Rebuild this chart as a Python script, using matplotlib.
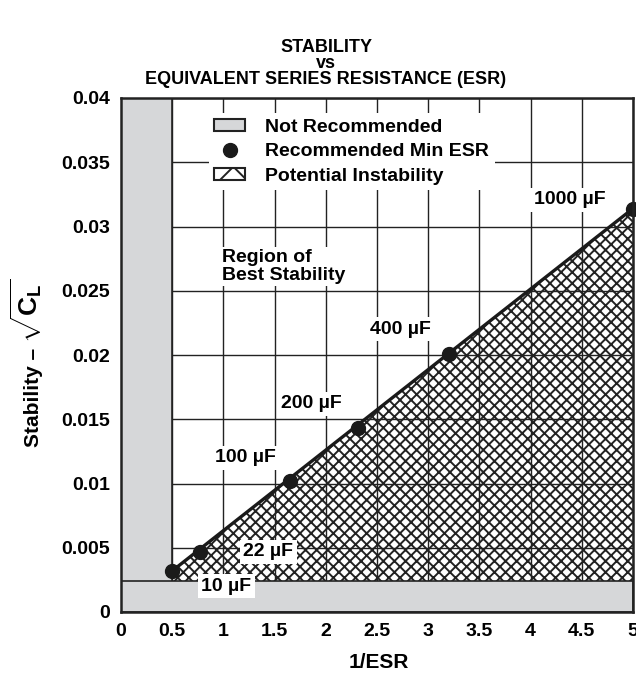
import matplotlib
matplotlib.use("Agg")
import matplotlib.pyplot as plt
from matplotlib.patches import Patch, Rectangle, Polygon
from matplotlib.lines import Line2D

plt.rcParams['font.family'] = ['Liberation Sans', 'DejaVu Sans']
plt.rcParams['font.weight'] = 'bold'
plt.rcParams['mathtext.fontset'] = 'custom'
plt.rcParams['mathtext.rm'] = 'Liberation Sans:bold'
plt.rcParams['mathtext.bf'] = 'Liberation Sans:bold'
plt.rcParams['mathtext.it'] = 'Liberation Sans:bold'
plt.rcParams['hatch.linewidth'] = 1.4

# Data
inv_esr = [0.5, 0.77, 1.65, 2.31, 3.2, 5.0]
stability = [0.0032, 0.0047, 0.0102, 0.0143, 0.0201, 0.0314]
cap_labels = ['10 µF', '22 µF', '100 µF', '200 µF', '400 µF', '1000 µF']
label_x = [1.03, 1.44, 1.22, 1.86, 2.73, 4.38]
label_y = [0.0020, 0.00467, 0.0120, 0.0162, 0.0220, 0.0321]
min_esr_x = 0.5
band_top = 0.0024
x_ticks = [0, 0.5, 1, 1.5, 2, 2.5, 3, 3.5, 4, 4.5, 5]
x_tick_labels = ['0', '0.5', '1', '1.5', '2', '2.5', '3', '3.5', '4', '4.5', '5']
y_ticks = [0, 0.005, 0.01, 0.015, 0.02, 0.025, 0.03, 0.035, 0.04]
y_tick_labels = ['0', '0.005', '0.01', '0.015', '0.02', '0.025', '0.03', '0.035', '0.04']

GRAY = '#d6d7d9'
FS = 14

fig = plt.figure(figsize=(6.36, 6.73), dpi=100)
ax = fig.add_axes([121/636, 61/673, 512/636, 514/673])
ax.set_xlim(0, 5)
ax.set_ylim(0, 0.04)
ax.set_xticks(x_ticks)
ax.set_xticklabels(x_tick_labels)
ax.set_yticks(y_ticks)
ax.set_yticklabels(y_tick_labels)
ax.tick_params(length=0, labelsize=14, pad=8)
for lbl in ax.get_xticklabels() + ax.get_yticklabels():
    lbl.set_fontweight('bold')
ax.grid(True, color='#222222', linewidth=1.0, zorder=0)
ax.set_axisbelow(True)
for s in ax.spines.values():
    s.set_linewidth(1.8)
    s.set_color('#222222')
    s.set_zorder(10)

# Hatched potential instability region
x0, x1 = inv_esr[0], inv_esr[-1]
poly = Polygon([(x0, band_top), (x0, stability[0]), (x1, stability[-1]), (x1, band_top)],
               closed=True, facecolor='none', edgecolor='#222222', hatch='xxx',
               linewidth=0, zorder=2)
ax.add_patch(poly)

# Not recommended gray regions
ax.add_patch(Rectangle((0, 0), min_esr_x, 0.04, facecolor=GRAY, edgecolor='#222222',
                       linewidth=1.2, zorder=3))
ax.add_patch(Rectangle((0, 0), 5, band_top, facecolor=GRAY, edgecolor='#222222',
                       linewidth=1.2, zorder=3))

# Line and points
ax.plot([inv_esr[0], inv_esr[-1]], [stability[0], stability[-1]], color='#1a1a1a',
        linewidth=2.4, zorder=5)
ax.plot(inv_esr, stability, 'o', color='#1a1a1a', markersize=10, zorder=6, clip_on=False)

for t, lx, ly in zip(cap_labels, label_x, label_y):
    ax.text(lx, ly, t, ha='center', va='center', fontsize=FS, fontweight='bold',
            bbox=dict(facecolor='white', edgecolor='none', pad=2.5), zorder=7)

ax.text(0.99, 0.0269, 'Region of\nBest Stability', ha='left', va='center', fontsize=FS,
        fontweight='bold', linespacing=1.05,
        bbox=dict(facecolor='white', edgecolor='none', pad=1.5), zorder=7)

handles = [
    Patch(facecolor=GRAY, edgecolor='#222222', linewidth=1.5),
    Line2D([], [], marker='o', color='#1a1a1a', linestyle='none', markersize=10),
    Patch(facecolor='white', edgecolor='#222222', hatch='x', linewidth=1.5),
]
leg = ax.legend(handles, ['Not Recommended', 'Recommended Min ESR', 'Potential Instability'],
                loc='upper left', bbox_to_anchor=(0.152, 0.99), frameon=True,
                fancybox=False, framealpha=1, edgecolor='none', facecolor='white',
                prop={'weight': 'bold', 'size': FS}, handlelength=1.6,
                handleheight=0.6, labelspacing=0.38, borderpad=0.3, handletextpad=1.0)
leg.set_zorder(8)

ax.set_xlabel('1/ESR', fontsize=15, fontweight='bold')
ax.xaxis.set_label_coords((379 - 121) / 512, -0.08)

# Y axis label: "Stability –" followed by a larger square-root term
fig.text(39/636, 1 - 447/673, 'Stability –', rotation=90, rotation_mode='anchor',
         ha='left', va='baseline', fontsize=15, fontweight='bold')
fig.text(39/636, 1 - 343/673, r'$\sqrt{\mathbf{C}_{\mathbf{L}}}$', rotation=90,
         rotation_mode='anchor', ha='left', va='baseline', fontsize=19, fontweight='bold')

fig.text(326/636, 1 - 47/673, 'STABILITY', ha='center', va='center', fontsize=13, fontweight='bold')
fig.text(326/636, 1 - 63/673, 'vs', ha='center', va='center', fontsize=13, fontweight='bold')
fig.text(326/636, 1 - 79/673, 'EQUIVALENT SERIES RESISTANCE (ESR)', ha='center', va='center',
         fontsize=13, fontweight='bold')

fig.savefig('out.png', dpi=100)
